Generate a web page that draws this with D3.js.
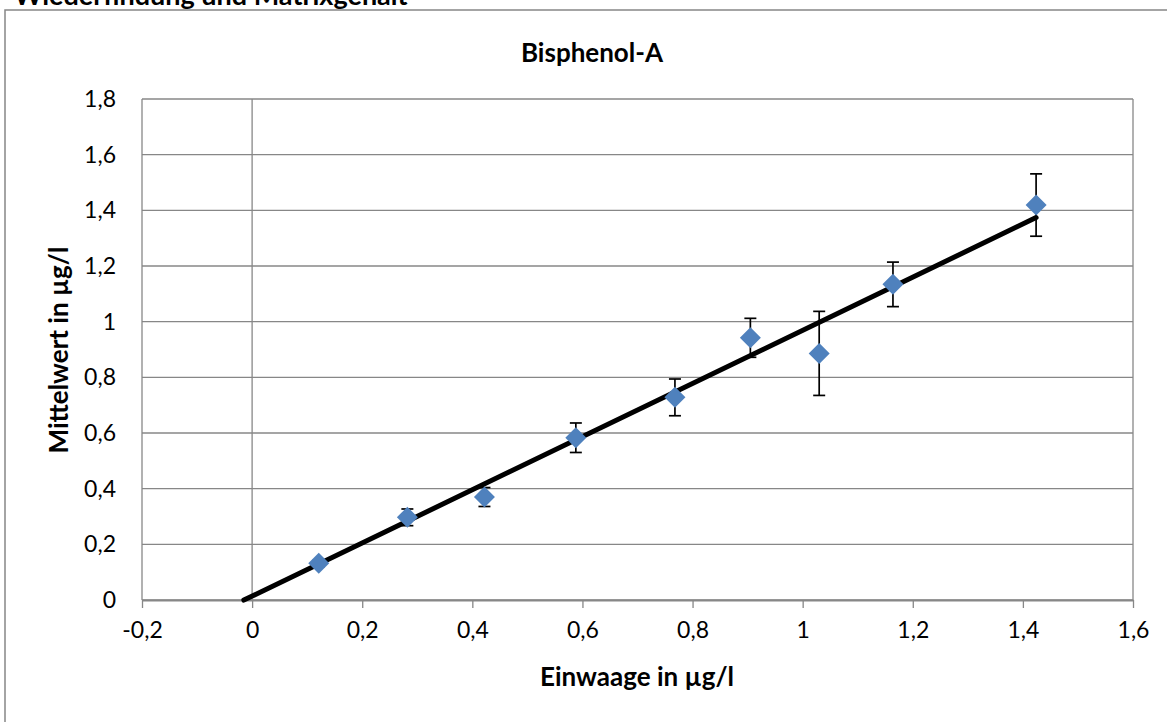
<!DOCTYPE html>
<meta charset="utf-8">
<title>Bisphenol-A</title>
<style>
  body { margin: 0; background: #fff; }
  svg { display: block; font-family: Lato, "Open Sans", sans-serif; }
</style>
<script src="https://d3js.org/d3.v7.min.js"></script>
<body>
<div id="chart"></div>
<script>
// Einwaage (x) und Mittelwert (y) je Messpunkt, Fehler = +/- Abweichung
var einwaage   = [0.121, 0.282, 0.422, 0.588, 0.768, 0.905, 1.030, 1.164, 1.424];
var mittelwert = [0.132, 0.297, 0.370, 0.583, 0.728, 0.942, 0.886, 1.134, 1.419];
var fehler     = [0.012, 0.030, 0.034, 0.053, 0.066, 0.070, 0.151, 0.080, 0.112];

// lineare Trendlinie
var trendSlope = 0.955, trendIntercept = 0.014;
var trendFrom = -0.015, trendTo = 1.424;

var xTicks = [-0.2, 0, 0.2, 0.4, 0.6, 0.8, 1, 1.2, 1.4, 1.6];
var yTicks = [0, 0.2, 0.4, 0.6, 0.8, 1, 1.2, 1.4, 1.6, 1.8];

var W = 1167, H = 722;
var plot = {left: 142, right: 1133, top: 99, bottom: 600};
var grid = "#878787";

var svg = d3.select("#chart").append("svg")
    .attr("width", W).attr("height", H);

svg.append("rect").attr("width", W).attr("height", H).attr("fill", "#fff");

// Rahmen des Diagrammbereichs (rechts/unten abgeschnitten)
svg.append("rect")
    .attr("x", 5).attr("y", 10)
    .attr("width", 1180).attr("height", 740)
    .attr("fill", "none").attr("stroke", grid).attr("stroke-width", 1.5);

// Überschrift oben, wie im Original halb abgeschnitten
svg.append("text")
    .attr("x", 14).attr("y", 5)
    .attr("font-weight", "bold").attr("font-size", 27)
    .text("Wiederfindung und Matrixgehalt");

var x = d3.scaleLinear().domain([-0.2, 1.6]).range([plot.left, plot.right]);
var y = d3.scaleLinear().domain([0, 1.8]).range([plot.bottom, plot.top]);

function fmt(d) { return String(Math.round(d * 10) / 10).replace(".", ","); }

// horizontale Gitterlinien
svg.append("g").selectAll("line")
  .data(yTicks)
  .enter().append("line")
    .attr("x1", plot.left).attr("x2", plot.right)
    .attr("y1", function(d) { return y(d); })
    .attr("y2", function(d) { return y(d); })
    .attr("stroke", grid).attr("stroke-width", 1.3);

// Rand links/rechts + senkrechte Achse bei x=0
svg.append("g").selectAll("line")
  .data([-0.2, 0, 1.6])
  .enter().append("line")
    .attr("x1", function(d) { return x(d); })
    .attr("x2", function(d) { return x(d); })
    .attr("y1", plot.top).attr("y2", plot.bottom)
    .attr("stroke", grid).attr("stroke-width", 1.3);

// x-Achse
var xAxis = d3.axisBottom(x).tickValues(xTicks).tickFormat(fmt)
    .tickSizeInner(8).tickSizeOuter(0).tickPadding(14);
var gx = svg.append("g")
    .attr("transform", "translate(0," + plot.bottom + ")")
    .call(xAxis);
gx.select(".domain").attr("stroke", grid).attr("stroke-width", 2);
gx.selectAll(".tick line").attr("stroke", grid).attr("stroke-width", 1.3);
gx.selectAll(".tick text")
    .attr("font-size", 23).attr("fill", "#000")
    .attr("font-family", "Lato, 'Open Sans', sans-serif");

// y-Achse (Beschriftung links am Plotrand)
var yAxis = d3.axisLeft(y).tickValues(yTicks).tickFormat(fmt)
    .tickSizeInner(0).tickSizeOuter(0).tickPadding(26);
var gy = svg.append("g")
    .attr("transform", "translate(" + plot.left + ",0)")
    .call(yAxis);
gy.select(".domain").remove();
gy.selectAll(".tick text")
    .attr("font-size", 23).attr("fill", "#000")
    .attr("font-family", "Lato, 'Open Sans', sans-serif");

// Titel und Achsentitel
svg.append("text")
    .attr("x", 592).attr("y", 62)
    .attr("text-anchor", "middle")
    .attr("font-weight", "bold").attr("font-size", 26)
    .text("Bisphenol-A");

svg.append("text")
    .attr("x", 637).attr("y", 686)
    .attr("text-anchor", "middle")
    .attr("font-weight", "bold").attr("font-size", 26)
    .text("Einwaage in µg/l");

svg.append("text")
    .attr("transform", "translate(68," + 350 + ") rotate(-90)")
    .attr("text-anchor", "middle")
    .attr("font-weight", "bold").attr("font-size", 26)
    .text("Mittelwert in µg/l");

var pts = einwaage.map(function(d, i) {
  return {x: d, y: mittelwert[i], e: fehler[i]};
});

// Trendlinie
svg.append("line")
    .attr("x1", x(trendFrom)).attr("y1", y(trendSlope * trendFrom + trendIntercept))
    .attr("x2", x(trendTo)).attr("y2", y(trendSlope * trendTo + trendIntercept))
    .attr("stroke", "#000").attr("stroke-width", 5).attr("stroke-linecap", "round");

// Fehlerbalken
var eb = svg.append("g").attr("stroke", "#000").attr("stroke-width", 1.7);
eb.selectAll(".v").data(pts).enter().append("line")
    .attr("x1", function(d) { return x(d.x); }).attr("x2", function(d) { return x(d.x); })
    .attr("y1", function(d) { return y(d.y - d.e); })
    .attr("y2", function(d) { return y(d.y + d.e); });
[-1, 1].forEach(function(s) {
  eb.selectAll(".c" + s).data(pts).enter().append("line")
    .attr("x1", function(d) { return x(d.x) - 6; })
    .attr("x2", function(d) { return x(d.x) + 6; })
    .attr("y1", function(d) { return y(d.y + s * d.e); })
    .attr("y2", function(d) { return y(d.y + s * d.e); });
});

// Rauten
svg.append("g").selectAll("path")
  .data(pts)
  .enter().append("path")
    .attr("d", function(d) {
      var cx = x(d.x), cy = y(d.y), r = 10.5;
      return "M" + cx + "," + (cy - r) + "L" + (cx + r) + "," + cy +
             "L" + cx + "," + (cy + r) + "L" + (cx - r) + "," + cy + "Z";
    })
    .attr("fill", "#4F81BD");
</script>
</body>
